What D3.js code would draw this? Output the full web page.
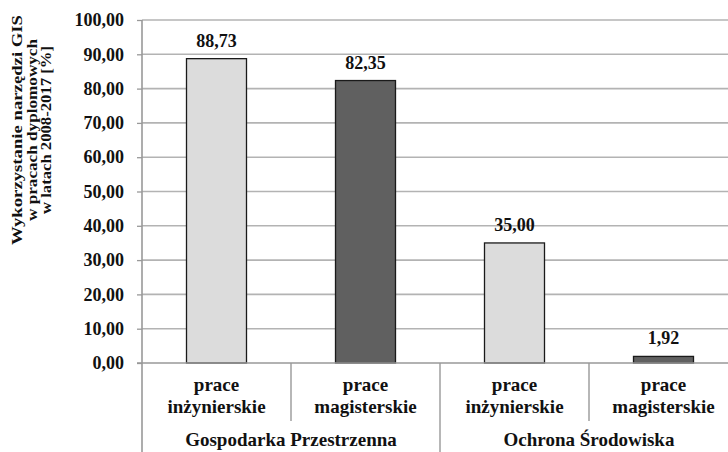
<!DOCTYPE html>
<html>
<head>
<meta charset="utf-8">
<script src="https://cdn.jsdelivr.net/npm/d3@7"></script>
<style>
  html, body { margin: 0; padding: 0; background: #fff; }
  svg { display: block; }
  text { font-family: "Liberation Serif", "Times New Roman", serif; font-weight: bold; fill: #111; }
</style>
</head>
<body>
<svg id="chart" width="728" height="452"></svg>
<script>
// Kategorie (grupy kierunków i rodzaje prac) oraz wartości procentowe
const groups = ["Gospodarka Przestrzenna", "Ochrona Środowiska"];
const subLabels = [["prace", "inżynierskie"], ["prace", "magisterskie"], ["prace", "inżynierskie"], ["prace", "magisterskie"]];
const barKind = ["inz", "mag", "inz", "mag"];
const values = [88.73, 82.35, 35.00, 1.92];
const yTicks = [0, 10, 20, 30, 40, 50, 60, 70, 80, 90, 100];
const yTitle = ["Wykorzystanie narzędzi GIS", "w pracach dyplomowych", "w latach 2008-2017 [%]"];

const fmt = v => v.toFixed(2).replace(".", ",");

const svg = d3.select("#chart");
const plotLeft = 142, plotRight = 738, plotTop = 20, plotBottom = 363;

const x = d3.scaleBand().domain(d3.range(values.length)).range([plotLeft, plotRight]);
const xGroup = d3.scaleBand().domain(d3.range(groups.length)).range([plotLeft, plotRight]);
const y = d3.scaleLinear().domain([0, 100]).range([plotBottom, plotTop]);

const colors = { inz: "#dcdcdc", mag: "#606060" };
const barW = 60;
const axisColor = "#999";

// Linie siatki
svg.append("g").selectAll("line").data(yTicks.filter(t => t > 0)).join("line")
  .attr("x1", plotLeft).attr("x2", plotRight)
  .attr("y1", d => y(d)).attr("y2", d => y(d))
  .attr("stroke", "#b3b3b3").attr("stroke-width", 1.6);

// Oś Y z etykietami
const yAxis = svg.append("g").attr("transform", `translate(${plotLeft},0)`)
  .call(d3.axisLeft(y).tickValues(yTicks).tickFormat(fmt).tickSize(5).tickPadding(13));
yAxis.select(".domain").remove();
yAxis.selectAll(".tick line").attr("stroke", axisColor).attr("stroke-width", 1.3);
yAxis.selectAll(".tick text").attr("font-size", 18).attr("font-family", "Liberation Serif, serif")
  .attr("font-weight", "bold").attr("fill", "#111");

// Słupki
svg.append("g").selectAll("rect").data(values).join("rect")
  .attr("x", (d, i) => x(i) + x.bandwidth() / 2 - barW / 2)
  .attr("width", barW)
  .attr("y", d => y(d))
  .attr("height", d => y(0) - y(d))
  .attr("fill", (d, i) => colors[barKind[i]])
  .attr("stroke", "#1a1a1a").attr("stroke-width", 1.3);

// Etykiety wartości
svg.append("g").selectAll("text").data(values).join("text")
  .attr("x", (d, i) => x(i) + x.bandwidth() / 2)
  .attr("y", d => y(d) - 12)
  .attr("text-anchor", "middle").attr("font-size", 18)
  .text(fmt);

// Oś pozioma, oś pionowa i separatory kategorii
svg.append("line").attr("x1", plotLeft - 5).attr("x2", plotRight).attr("y1", plotBottom).attr("y2", plotBottom)
  .attr("stroke", axisColor).attr("stroke-width", 1.6);
svg.append("line").attr("x1", plotLeft).attr("x2", plotLeft).attr("y1", plotTop).attr("y2", 452)
  .attr("stroke", axisColor).attr("stroke-width", 1.6);
// separatory rodzajów prac
svg.append("g").selectAll("line").data([1, 3]).join("line")
  .attr("x1", d => x(d)).attr("x2", d => x(d))
  .attr("y1", plotBottom).attr("y2", 421)
  .attr("stroke", axisColor).attr("stroke-width", 1.4);
// separator grup
svg.append("g").selectAll("line").data([1]).join("line")
  .attr("x1", d => xGroup(d)).attr("x2", d => xGroup(d))
  .attr("y1", plotBottom).attr("y2", 452)
  .attr("stroke", axisColor).attr("stroke-width", 1.4);

// Etykiety rodzajów prac
const sub = svg.append("g").selectAll("text").data(subLabels).join("text")
  .attr("text-anchor", "middle").attr("font-size", 19);
sub.each(function(lines, i) {
  const t = d3.select(this);
  lines.forEach((s, k) => t.append("tspan")
    .attr("x", x(i) + x.bandwidth() / 2)
    .attr("y", 391 + k * 22).text(s));
});

// Etykiety grup
svg.append("g").selectAll("text").data(groups).join("text")
  .attr("x", (d, i) => xGroup(i) + xGroup.bandwidth() / 2)
  .attr("y", 446)
  .attr("text-anchor", "middle").attr("font-size", 19)
  .text(d => d);

// Tytuł osi Y: trzy linie, każda rozciągnięta do zadanej długości
const titleLen = [230, 182, 168];
const yt = svg.append("g").attr("transform", "translate(32,130) rotate(-90)");
yTitle.forEach((s, k) => yt.append("text")
  .attr("x", 0).attr("y", -10 + k * 14.5)
  .attr("text-anchor", "middle").attr("font-size", 14)
  .attr("textLength", titleLen[k]).attr("lengthAdjust", "spacingAndGlyphs")
  .text(s));
</script>
</body>
</html>
